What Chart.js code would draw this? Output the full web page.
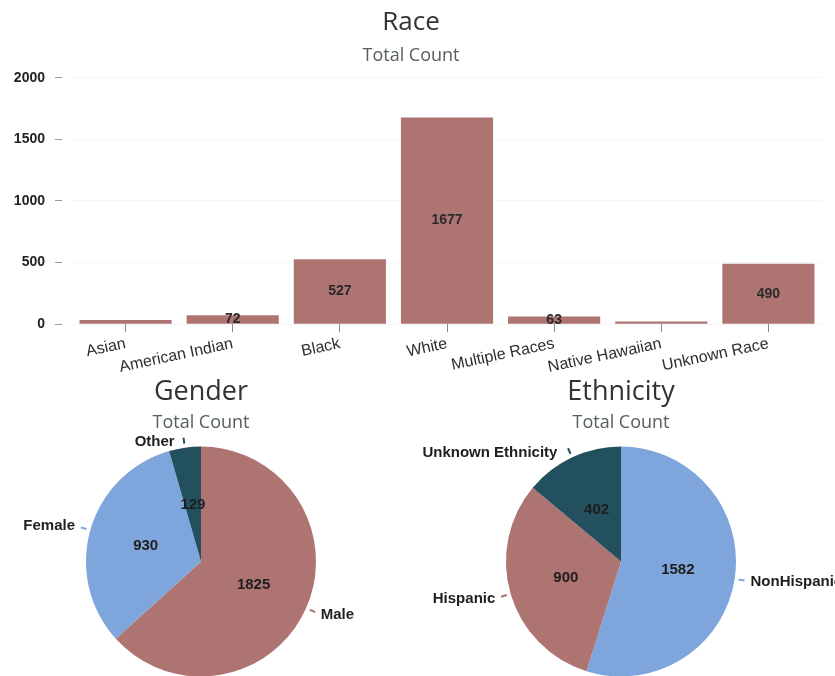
<!DOCTYPE html>
<html>
<head>
<meta charset="utf-8">
<script src="https://cdn.jsdelivr.net/npm/chart.js@4.4.0/dist/chart.umd.min.js"></script>
<style>
  body { margin: 0; width: 835px; height: 676px; overflow: hidden; background: #fff; position: relative; }
  .box { position: absolute; overflow: hidden; }
</style>
</head>
<body>
<div class="box" style="left:0;top:0;width:835px;height:380px"><canvas id="raceChart" width="835" height="380"></canvas></div>
<div class="box" style="left:0;top:370px;width:415px;height:306px"><canvas id="genderChart" width="415" height="320"></canvas></div>
<div class="box" style="left:415px;top:370px;width:420px;height:306px"><canvas id="ethnicityChart" width="420" height="320"></canvas></div>
<script>
// chart data
const raceLabels = ['Asian', 'American Indian', 'Black', 'White', 'Multiple Races', 'Native Hawaiian', 'Unknown Race'];
const raceCounts = [33, 72, 527, 1677, 63, 22, 490];
const raceAxisMax = 2000;
const raceAxisStep = 500;

const genderLabels = ['Male', 'Female', 'Other'];
const genderCounts = [1825, 930, 129];

const ethnicityLabels = ['NonHispanic', 'Hispanic', 'Unknown Ethnicity'];
const ethnicityCounts = [1582, 900, 402];

const RED = '#ae7472';
const BLUE = '#7ea5dc';
const TEAL = '#22505f';
const titleFont = "'Open Sans', sans-serif";
const labelFont = "'Liberation Sans', Arial, sans-serif";

// value labels in the middle of each bar (tiny bars get none)
const barValues = {
    id: 'barValues',
    afterDatasetsDraw(chart) {
        const ctx = chart.ctx;
        const meta = chart.getDatasetMeta(0);
        ctx.save();
        ctx.font = 'bold 14px ' + labelFont;
        ctx.fillStyle = '#2a2a2a';
        ctx.textAlign = 'center';
        ctx.textBaseline = 'middle';
        meta.data.forEach((bar, i) => {
            const v = chart.data.datasets[0].data[i];
            if (v < 50) return;
            ctx.fillText(String(v), bar.x, (bar.y + bar.base) / 2);
        });
        ctx.restore();
    }
};

// values inside slices, names outside with a little tick mark
const pieLabels = {
    id: 'pieLabels',
    afterDatasetsDraw(chart) {
        const ctx = chart.ctx;
        const ds = chart.data.datasets[0];
        const meta = chart.getDatasetMeta(0);
        ctx.save();
        ctx.font = 'bold 15px ' + labelFont;
        ctx.textBaseline = 'middle';
        meta.data.forEach((arc, i) => {
            const mid = (arc.startAngle + arc.endAngle) / 2;
            const r = arc.outerRadius;
            const dx = Math.cos(mid), dy = Math.sin(mid);
            ctx.fillStyle = '#1e1e1e';
            ctx.textAlign = 'center';
            ctx.fillText(String(ds.data[i]), arc.x + dx * r * 0.5, arc.y + dy * r * 0.5);

            ctx.strokeStyle = ds.backgroundColor[i];
            ctx.lineWidth = 2;
            ctx.beginPath();
            ctx.moveTo(arc.x + dx * (r + 4), arc.y + dy * (r + 4));
            ctx.lineTo(arc.x + dx * (r + 10), arc.y + dy * (r + 10));
            ctx.stroke();

            ctx.textAlign = dx >= 0 ? 'left' : 'right';
            const lift = dy < -0.8 ? 10 : 0;
            ctx.fillText(chart.data.labels[i], arc.x + dx * (r + 16) - (lift ? 8 : 0), arc.y + dy * (r + 16) + lift);
        });
        ctx.restore();
    }
};

function titleOptions(text, size, padTop, subTop, subBottom) {
    return {
        title: {
            display: true, text: text, color: '#333',
            font: { family: titleFont, size: size, weight: 'normal' },
            padding: { top: padTop, bottom: 0 }
        },
        subtitle: {
            display: true, text: 'Total Count', color: '#55605a',
            font: { family: titleFont, size: 18, weight: 'normal' },
            padding: { top: subTop, bottom: subBottom }
        },
        legend: { display: false },
        tooltip: { enabled: false }
    };
}

new Chart(document.getElementById('raceChart'), {
    type: 'bar',
    data: {
        labels: raceLabels,
        datasets: [{
            data: raceCounts,
            backgroundColor: RED,
            borderWidth: 0,
            categoryPercentage: 1,
            barPercentage: 0.86
        }]
    },
    options: {
        responsive: false,
        animation: false,
        layout: { padding: { right: 13, bottom: 1 } },
        plugins: titleOptions('Race', 26, 7, 7, 11),
        scales: {
            x: {
                grid: { drawOnChartArea: false, offset: false, tickLength: 8, color: '#8a8a8a' },
                border: { display: false },
                ticks: {
                    color: '#2e2e2e', minRotation: 12, maxRotation: 12, padding: 2,
                    font: { family: labelFont, size: 16 }
                }
            },
            y: {
                min: 0, max: raceAxisMax,
                afterFit(scale) { scale.width = 72; },
                grid: { color: 'rgba(0,0,0,0.035)', tickColor: '#9a9a9a', tickLength: 17, tickBorderDash: [7, 20] },
                border: { display: false },
                ticks: {
                    stepSize: raceAxisStep, color: '#222', padding: 10,
                    font: { family: labelFont, size: 14, weight: 'bold' },
                    callback: v => String(v)
                }
            }
        }
    },
    plugins: [barValues]
});

function makePie(id, title, labels, counts, colors, rightPad) {
    new Chart(document.getElementById(id), {
        type: 'pie',
        data: {
            labels: labels,
            datasets: [{ data: counts, backgroundColor: colors, borderWidth: 0, radius: 115 }]
        },
        options: {
            responsive: false,
            animation: false,
            layout: { padding: { right: rightPad, bottom: 1 } },
            plugins: titleOptions(title, 27, 6, 4, 0)
        },
        plugins: [pieLabels]
    });
}

makePie('genderChart', 'Gender', genderLabels, genderCounts, [RED, BLUE, TEAL], 13);
makePie('ethnicityChart', 'Ethnicity', ethnicityLabels, ethnicityCounts, [BLUE, RED, TEAL], 8);
</script>
</body>
</html>
